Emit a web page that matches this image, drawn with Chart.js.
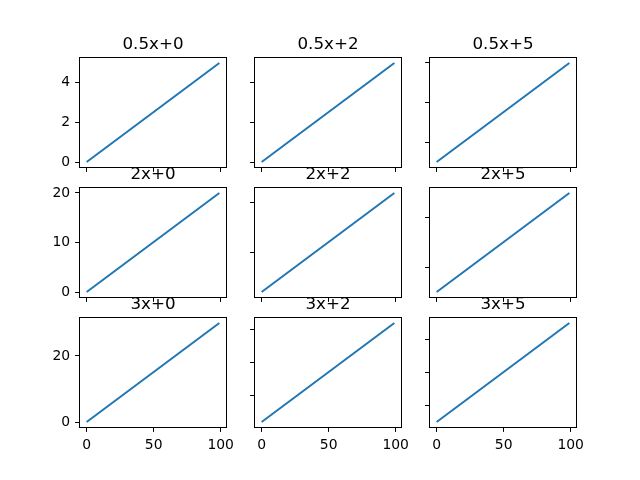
<!DOCTYPE html>
<html>
<head>
<meta charset="utf-8">
<script src="https://cdn.jsdelivr.net/npm/chart.js"></script>
<style>
  body { margin: 0; background: #fff; }
  #fig { position: relative; width: 640px; height: 480px; overflow: hidden; }
  #fig canvas { position: absolute; }
</style>
</head>
<body>
<div id="fig"></div>
<script>
// values
const titles = [
    ['0.5x+0', '0.5x+2', '0.5x+5'],
    ['2x+0', '2x+2', '2x+5'],
    ['3x+0', '3x+2', '3x+5']
];
const xEnds = [0, 99];
const lineStart = [[0, 2, 5], [0, 2, 5], [0, 2, 5]];
const lineEnd = [[5, 7, 10], [20, 22, 25], [30, 32, 35]];
const xTicks = [0, 50, 100];
const yTicks = [
    [[0, 2, 4], [2, 4, 6], [6, 8, 10]],
    [[0, 10, 20], [10, 20], [10, 20]],
    [[0, 20], [10, 20, 30], [10, 20, 30]]
];

const fig = document.getElementById('fig');
const FONT = 'DejaVu Sans';
const PAD = 50;

// subplot grid like matplotlib defaults
const figLeft = 80, figRight = 576, figTop = 57.6, figBottom = 427.2;
const axW = (figRight - figLeft) / 3.4, axH = (figBottom - figTop) / 3.4;

const frame = {
    id: 'frame',
    afterDraw(chart) {
        const a = chart.chartArea, ctx = chart.ctx;
        ctx.save();
        ctx.strokeStyle = '#000';
        ctx.lineWidth = 1;
        ctx.strokeRect(Math.round(a.left) - 0.5, Math.round(a.top) - 0.5,
            Math.round(a.right - a.left) + 1, Math.round(a.bottom - a.top) + 1);
        ctx.restore();
    }
};

function limits(lo, hi) {
    const m = (hi - lo) * 0.05;
    return [lo - m, hi + m];
}

for (let r = 0; r < 3; r++) {
    for (let c = 0; c < 3; c++) {
        const axL = Math.round(figLeft + c * axW * 1.2);
        const axT = Math.round(figTop + r * axH * 1.2);
        const cv = document.createElement('canvas');
        const w = PAD + Math.round(axW) + PAD, h = 30 + Math.round(axH) + 25;
        cv.width = w; cv.height = h;
        cv.style.left = (axL - PAD) + 'px';
        cv.style.top = (axT - 30) + 'px';
        cv.style.width = w + 'px';
        cv.style.height = h + 'px';
        fig.appendChild(cv);

        const xl = limits(xEnds[0], xEnds[1]);
        const yl = limits(lineStart[r][c], lineEnd[r][c]);

        new Chart(cv, {
            type: 'line',
            data: {
                datasets: [{
                    data: [
                        { x: xEnds[0], y: lineStart[r][c] },
                        { x: xEnds[1], y: lineEnd[r][c] }
                    ],
                    borderColor: '#1f77b4',
                    borderWidth: 2,
                    pointRadius: 0,
                    pointHoverRadius: 0,
                    tension: 0
                }]
            },
            options: {
                responsive: false,
                animation: false,
                devicePixelRatio: 1,
                layout: { padding: { top: 0, left: 0, right: PAD, bottom: 0 } },
                plugins: {
                    legend: { display: false },
                    tooltip: { enabled: false }
                },
                scales: {
                    x: {
                        type: 'linear',
                        min: xl[0], max: xl[1],
                        afterBuildTicks: s => { s.ticks = xTicks.map(v => ({ value: v })); },
                        afterFit: s => { s.height = 25; },
                        border: { display: false },
                        grid: { display: true, drawOnChartArea: false, drawTicks: true,
                                tickLength: 4.9, tickWidth: 1, tickColor: '#000' },
                        ticks: {
                            display: r == 2,
                            autoSkip: false, maxRotation: 0,
                            padding: 4.9, color: '#000',
                            font: { family: FONT, size: 13.9 },
                            callback: v => String(v)
                        }
                    },
                    // top axis only carries the subplot title, centred on the plot area
                    top: {
                        type: 'linear',
                        position: 'top',
                        min: xl[0], max: xl[1],
                        afterFit: s => { s.height = 30; },
                        border: { display: false },
                        grid: { display: false },
                        ticks: { display: false },
                        title: {
                            display: true,
                            text: titles[r][c],
                            color: '#000',
                            font: { family: FONT, size: 16.7, lineHeight: '20px' },
                            padding: { top: 6.4, bottom: 0 }
                        }
                    },
                    y: {
                        type: 'linear',
                        min: yl[0], max: yl[1],
                        afterBuildTicks: s => { s.ticks = yTicks[r][c].map(v => ({ value: v })); },
                        afterFit: s => { s.width = PAD; },
                        border: { display: false },
                        grid: { display: true, drawOnChartArea: false, drawTicks: true,
                                tickLength: 4.9, tickWidth: 1, tickColor: '#000' },
                        ticks: {
                            display: c == 0,
                            autoSkip: false,
                            padding: 4.9, color: '#000',
                            font: { family: FONT, size: 13.9 },
                            callback: v => String(v)
                        }
                    }
                }
            },
            plugins: [frame]
        });
    }
}
</script>
</body>
</html>
